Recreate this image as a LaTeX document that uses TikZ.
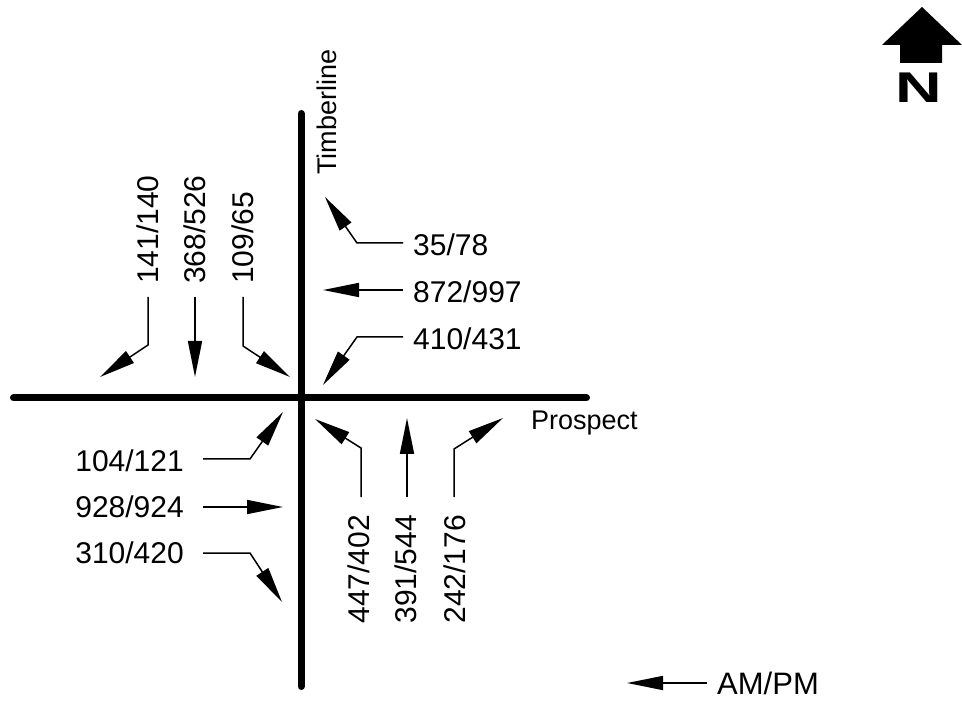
\documentclass[tikz,border=0pt]{standalone}
\usepackage{fontspec}
\setmainfont{Liberation Sans}
\usetikzlibrary{arrows.meta}
\begin{document}
\begin{tikzpicture}[x=1pt,y=-1pt,
  road/.style={line width=7pt,line cap=round},
  flow/.style={line width=1.5pt,-{Triangle[length=36pt,width=14pt]}},
  vol/.style={inner sep=0pt,font=\fontsize{30}{30}\selectfont},
  street/.style={inner sep=0pt,font=\fontsize{27}{27}\selectfont}]
\useasboundingbox (0,0) rectangle (962,703);
% roads
\coordinate (rw) at (13.5,398);
\coordinate (re) at (586.5,398);
\coordinate (rn) at (301,113.5);
\coordinate (rs) at (301,686.5);
\draw[road] (rw) -- (re);
\draw[road] (rn) -- (rs);
\node[street,rotate=90] (tim) at (327,112) {Timberline};
\node[street,anchor=west] (pro) at (531,423) {Prospect};
% north approach (southbound)
\node[vol,rotate=90,anchor=west] (n141) at (148,284) {141/140};
\node[vol,rotate=90,anchor=west] (n368) at (195,284) {368/526};
\node[vol,rotate=90,anchor=west] (n109) at (243,284) {109/65};
\coordinate (t141) at (100,377);
\coordinate (t368) at (195,377);
\coordinate (t109) at (290,377);
\draw[flow] ([yshift=-13pt]n141.west) -- (148,345) -- (t141);
\draw[flow] ([yshift=-13pt]n368.west) -- (t368);
\draw[flow] ([yshift=-13pt]n109.west) -- (243,346) -- (t109);
% east approach (westbound)
\node[vol,anchor=west] (n35) at (413,245) {35/78};
\node[vol,anchor=west] (n872) at (413,292) {872/997};
\node[vol,anchor=west] (n410) at (413,339) {410/431};
\coordinate (t35) at (325,197);
\coordinate (t872) at (323,290);
\coordinate (t410) at (323,385);
\draw[flow] ([xshift=-10pt,yshift=2pt]n35.west) -- (357,243) -- (t35);
\draw[flow] ([xshift=-10pt,yshift=2pt]n872.west) -- (t872);
\draw[flow] ([xshift=-10pt,yshift=2pt]n410.west) -- (357,337) -- (t410);
% west approach (eastbound)
\node[vol,anchor=east] (n104) at (184,461) {104/121};
\node[vol,anchor=east] (n928) at (184,507) {928/924};
\node[vol,anchor=east] (n310) at (184,553) {310/420};
\coordinate (t104) at (283,412);
\coordinate (t928) at (283,507);
\coordinate (t310) at (282,602);
\draw[flow] ([xshift=19pt,yshift=2pt]n104.east) -- (250,459) -- (t104);
\draw[flow] ([xshift=19pt]n928.east) -- (t928);
\draw[flow] ([xshift=19pt]n310.east) -- (250,553) -- (t310);
% south approach (northbound)
\node[vol,rotate=90,anchor=east] (n447) at (359,515) {447/402};
\node[vol,rotate=90,anchor=east] (n391) at (406,515) {391/544};
\node[vol,rotate=90,anchor=east] (n242) at (455,515) {242/176};
\coordinate (t447) at (315,419);
\coordinate (t391) at (407,418);
\coordinate (t242) at (503,418);
\draw[flow] (361,497) -- (361,448) -- (t447);
\draw[flow] (407,497) -- (t391);
\draw[flow] (454,497) -- (454,449) -- (t242);
% legend
\node[inner sep=0pt,anchor=west,font=\fontsize{31}{31}\selectfont] (amp) at (717,683) {AM/PM};
\coordinate (tleg) at (627,683);
\draw[flow] ([xshift=-10pt]amp.west) -- (tleg);
% north arrow
\fill (922,7) -- (962,45) -- (942,45) -- (942,63) -- (900,63) -- (900,45) -- (882,45) -- cycle;
\node[inner sep=0pt,font=\bfseries\fontsize{43}{43}\selectfont,xscale=1.5] (north) at (919,88) {N};
\end{tikzpicture}
\end{document}
